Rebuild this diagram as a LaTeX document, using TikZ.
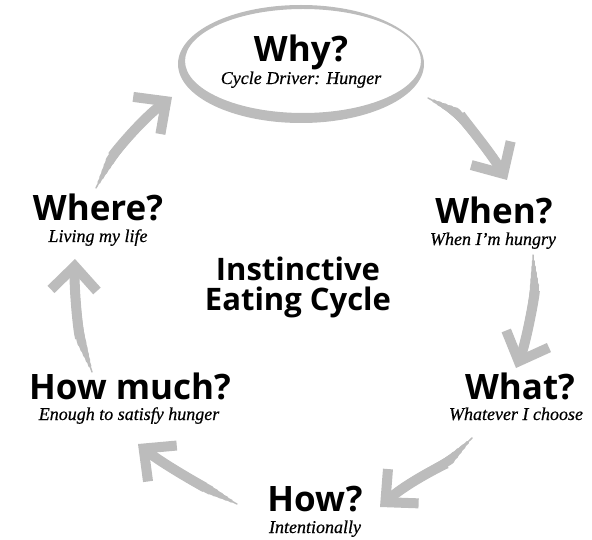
\documentclass[tikz,border=0pt]{standalone}
\usepackage{fontspec}
\setmainfont{Liberation Serif}
\setsansfont{Open Sans}
\newfontfamily\subserif[FakeBold=0.5]{Liberation Serif}
\usetikzlibrary{arrows.meta}
\definecolor{brush}{RGB}{188,188,188}
\tikzset{
  title/.style={font=\sffamily\bfseries\fontsize{35}{37}\selectfont, anchor=base, inner sep=0pt},
  center/.style={font=\sffamily\bfseries\fontsize{31}{33}\selectfont, anchor=base, inner sep=0pt},
  sub/.style={font=\subserif\itshape\fontsize{18}{20}\selectfont, anchor=base, inner sep=0pt},
  layer/.style={draw=brush, line cap=round},
  headstroke/.style={draw=brush, line width=10pt, -{Straight Barb[length=24pt,width=46pt]}},
}
\newcommand\brusharrow[4]{%
  \foreach \w/\sh in {1.5/0, 3/6, 4.5/12, 6/18, 7.5/24, 9/30}{
    \path[layer, line width=\w pt, shorten <=\sh pt, shorten >=14pt] (#1) .. controls #2 and #3 .. (#4);
  }
  \path[headstroke, shorten <=36pt] (#1) .. controls #2 and #3 .. (#4);
}
\begin{document}
\begin{tikzpicture}[x=1pt,y=-1pt]
\useasboundingbox (0,0) rectangle (592,540);
% ellipse around Why
\fill[brush, even odd rule] (301,64) ellipse [x radius=123, y radius=59]
  (303,61) ellipse [x radius=118, y radius=52];
% text
\node[title] (why) at (301,62) {Why?};
\node[sub] (whysub) at (301,84) {Cycle Driver: Hunger};
\node[title] (when) at (494,224) {When?};
\node[sub] (whensub) at (493,245) {When I’m hungry};
\node[title] (what) at (520,399) {What?};
\node[sub] (whatsub) at (516,420) {Whatever I choose};
\node[title] (how) at (315,511) {How?};
\node[sub] (howsub) at (315,533) {Intentionally};
\node[title] (howmuch) at (130,399) {How much?};
\node[sub] (howmuchsub) at (129,420) {Enough to satisfy hunger};
\node[title] (where) at (98,221) {Where?};
\node[sub] (wheresub) at (98,242) {Living my life};
\node[center] (c1) at (298,280) {Instinctive};
\node[center] (c2) at (298,311) {Eating Cycle};
% arrow coordinates
\coordinate (a1s) at (428,98);  \coordinate (a1e) at (507,180);
\coordinate (a2s) at (533,255); \coordinate (a2e) at (516,368);
\coordinate (a3s) at (472,438); \coordinate (a3e) at (380,507);
\coordinate (a4s) at (237,504); \coordinate (a4e) at (138,444);
\coordinate (a5s) at (92,372);  \coordinate (a5e) at (75,259);
\coordinate (a6s) at (96,188);  \coordinate (a6e) at (172,97);
\brusharrow{a1s}{+(30,15)}{+(-18,-30)}{a1e}
\brusharrow{a2s}{+(2,40)}{+(10,-25)}{a2e}
\brusharrow{a3s}{+(-25,25)}{+(28,-25)}{a3e}
\brusharrow{a4s}{+(-35,-18)}{+(25,20)}{a4e}
\brusharrow{a5s}{+(-14,-40)}{+(-1,30)}{a5e}
\brusharrow{a6s}{+(18,-35)}{+(-30,22)}{a6e}
\end{tikzpicture}
\end{document}
